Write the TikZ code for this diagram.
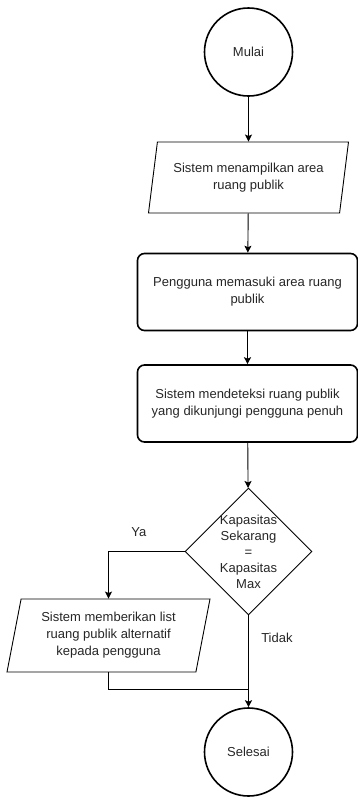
\documentclass[tikz,border=0pt]{standalone}
\usepackage{fontspec}
\setmainfont{Liberation Sans}
\usetikzlibrary{arrows.meta}
\usetikzlibrary{shapes.geometric}
\usetikzlibrary{positioning}
\tikzset{
	teks/.style={font=\fontsize{13}{17}\selectfont, text=black!85, align=center},
	terminal/.style={teks, circle, draw, line width=1.6pt, minimum size=88pt, inner sep=0pt},
	proses/.style={teks, rectangle, rounded corners=7pt, draw, line width=1.6pt, minimum width=220pt, minimum height=77pt, inner sep=0pt},
	io/.style={teks, trapezium, trapezium left angle=73, trapezium right angle=107, trapezium stretches body, draw, line width=0.9pt, inner sep=0pt},
	keputusan/.style={diamond, draw, line width=0.9pt, minimum width=127pt, minimum height=127pt, inner sep=0pt},
	panah/.style={-{Stealth[length=7pt, width=7pt, inset=1.5pt]}, line width=0.9pt},
	garis/.style={line width=0.9pt}
}
\begin{document}
\begin{tikzpicture}[x=1pt, y=-1pt]
			\useasboundingbox (0,0) rectangle (358,801);
			% draw nodes
			\node[terminal] (mulai) at (248.5,52) {Mulai};
			\node[io, minimum width=200pt, minimum height=71pt] (tampil) at (248.5,177.5) {Sistem menampilkan area\\ruang publik};
			\node[proses] (masuk) at (247.5,292) {Pengguna memasuki area ruang\\publik};
			\node[proses] (deteksi) at (247.5,403.5) {Sistem mendeteksi ruang publik\\yang dikunjungi pengguna penuh};
			\node[keputusan] (cek) at (248.5,551.5) {};
			\node[teks, font=\fontsize{13}{16}\selectfont] (cekteks) at (cek.center) {Kapasitas\\Sekarang\\=\\Kapasitas\\Max};
			\node[io, minimum width=203pt, minimum height=73pt] (alternatif) at (108.5,635.5) {Sistem memberikan list\\ruang publik alternatif\\kepada pengguna};
			\node[terminal] (selesai) at (248.5,752) {Selesai};
			\coordinate (gabung) at (248.5,689);
			
			% draw arrows
			\draw[panah] (mulai) -- (tampil);
			\draw[panah] (tampil) -- (masuk);
			\draw[panah] (masuk) -- (deteksi);
			\draw[panah] (deteksi) -- (cek);
			\draw[panah] (cek.west) -| (alternatif.north) node[teks, pos=0.3, above=11pt] {Ya};
			\draw[panah] (cek.south) -- (selesai.north) node[teks, pos=0.24, right=9pt] {Tidak};
			\draw[garis] (alternatif.south) |- (gabung);
		\end{tikzpicture}
\end{document}
